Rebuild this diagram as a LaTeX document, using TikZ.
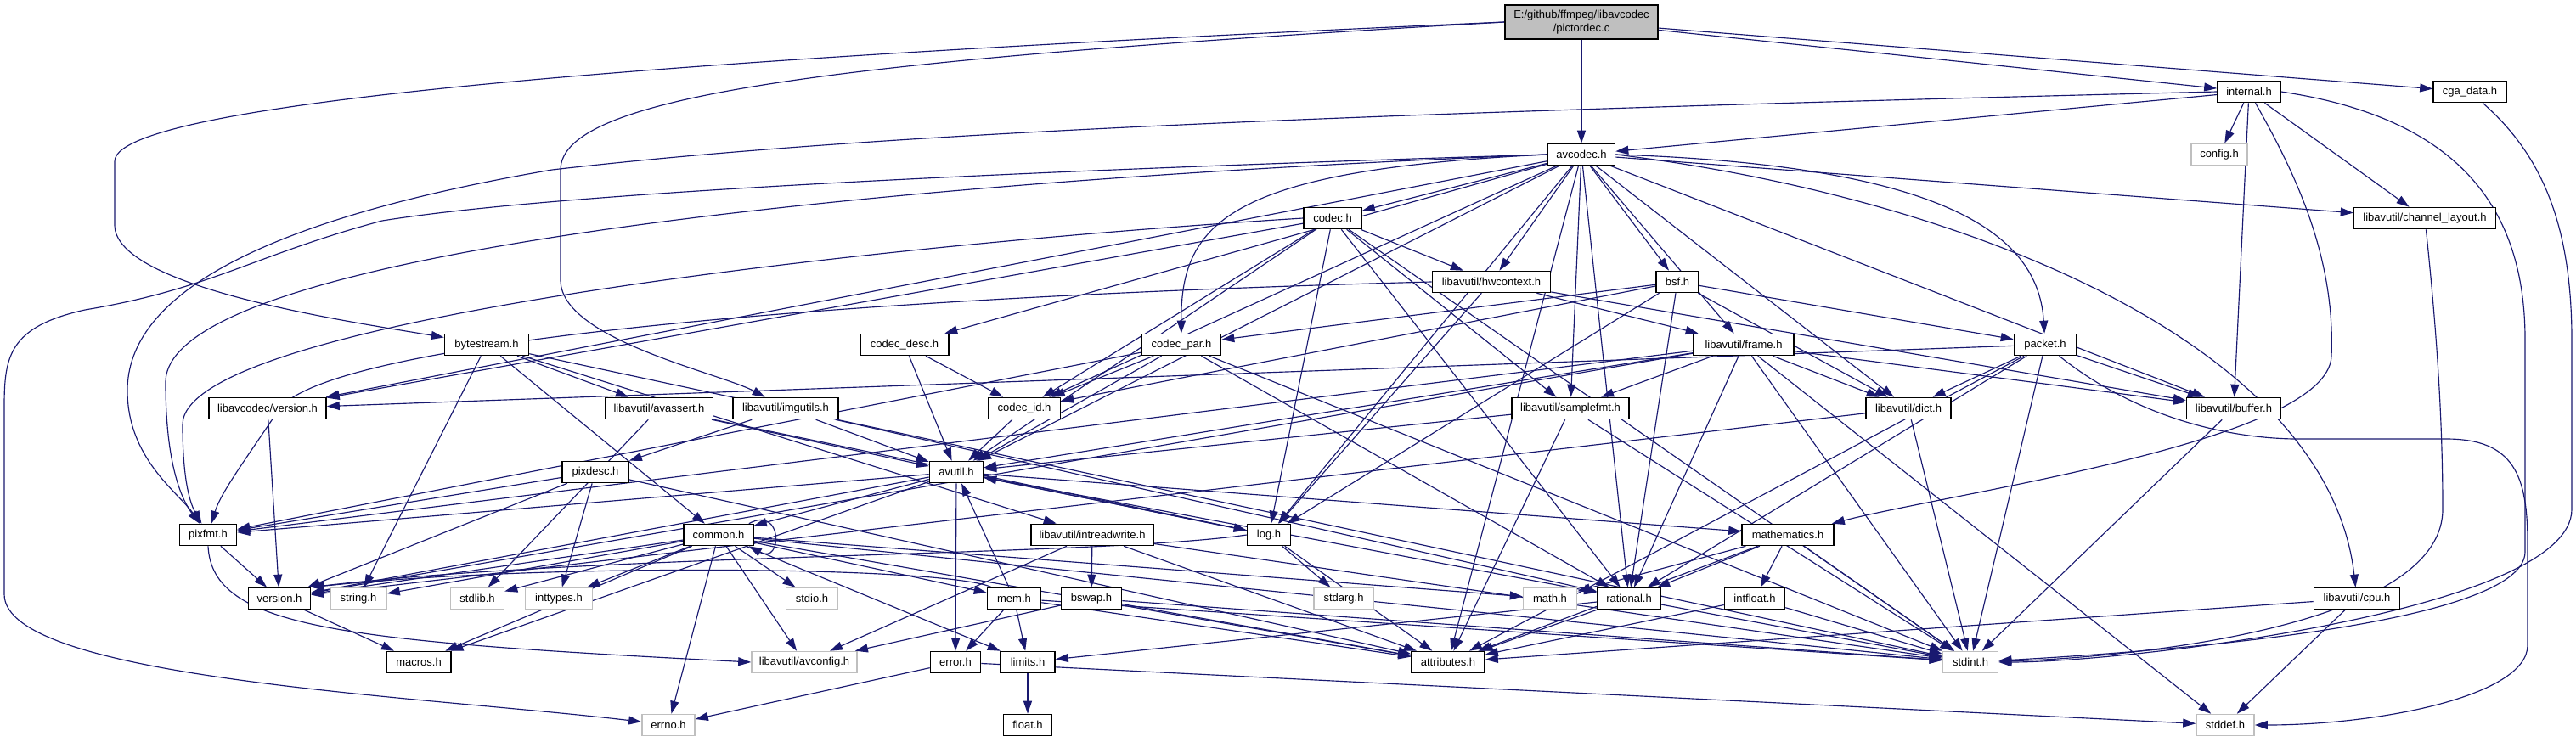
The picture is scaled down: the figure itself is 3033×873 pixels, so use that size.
\documentclass[tikz,border=0pt]{standalone}
\usepackage{fontspec}
\setmainfont{Liberation Sans}
\usetikzlibrary{arrows.meta}
\definecolor{edgec}{HTML}{191970}
\definecolor{greyb}{HTML}{BFBFBF}
\definecolor{rootfill}{HTML}{BFBFBF}
\pgfdeclarelayer{bgfill}
\pgfdeclarelayer{edges}
\pgfsetlayers{bgfill,edges,main}
\begin{document}
\begin{tikzpicture}[x=1pt,y=-1pt,
  nd/.style={draw=black, line width=1.6pt, fill=white, minimum height=25pt, inner sep=2pt, font=\fontsize{13}{16}\selectfont},
  sys/.style={nd, draw=greyb},
  e/.style={draw=edgec, line width=1.15pt, -{Triangle[length=15pt,width=10pt]}},
]
\begin{pgfonlayer}{bgfill}
\fill[white] (0,0) rectangle (3033,873);
\end{pgfonlayer}
\useasboundingbox (0,0) rectangle (3033,873);

% nodes
\node[nd, fill=rootfill, minimum width=180pt, minimum height=40pt, align=center] (root) at (1862,26) {E:/github/ffmpeg/libavcodec\\/pictordec.c};
\node[nd, minimum width=74pt] (internal) at (2648,108) {internal.h};
\node[nd, minimum width=86pt] (cga) at (2908,108) {cga\_data.h};
\node[nd, minimum width=79pt] (avcodec) at (1862,182) {avcodec.h};
\node[sys, minimum width=66pt] (config) at (2613,182) {config.h};
\node[nd, minimum width=68pt] (codec) at (1569,257) {codec.h};
\node[nd, minimum width=167pt] (chlayout) at (2855,257) {libavutil/channel\_layout.h};
\node[nd, minimum width=139pt] (hwctx) at (1756,332) {libavutil/hwcontext.h};
\node[nd, minimum width=50pt] (bsf) at (1975,332) {bsf.h};
\node[nd, minimum width=99pt] (bytestream) at (573,406) {bytestream.h};
\node[nd, minimum width=104pt] (codecdesc) at (1065,406) {codec\_desc.h};
\node[nd, minimum width=93pt] (codecpar) at (1391,406) {codec\_par.h};
\node[nd, minimum width=118pt] (frame) at (2053,406) {libavutil/frame.h};
\node[nd, minimum width=73pt] (packet) at (2408,406) {packet.h};
\node[nd, minimum width=138pt] (lvversion) at (315,481) {libavcodec/version.h};
\node[nd, minimum width=127pt] (avassert) at (776,481) {libavutil/avassert.h};
\node[nd, minimum width=124pt] (imgutils) at (925,481) {libavutil/imgutils.h};
\node[nd, minimum width=85pt] (codecid) at (1206,481) {codec\_id.h};
\node[nd, minimum width=138pt] (samplefmt) at (1849,481) {libavutil/samplefmt.h};
\node[nd, minimum width=100pt] (dict) at (2247,481) {libavutil/dict.h};
\node[nd, minimum width=111pt] (buffer) at (2630,481) {libavutil/buffer.h};
\node[nd, minimum width=78pt] (pixdesc) at (701,556) {pixdesc.h};
\node[nd, minimum width=63pt] (avutil) at (1126,556) {avutil.h};
\node[nd, minimum width=67pt] (pixfmt) at (245,630) {pixfmt.h};
\node[nd, minimum width=82pt] (common) at (846,630) {common.h};
\node[nd, minimum width=144pt] (intrw) at (1286,630) {libavutil/intreadwrite.h};
\node[nd, minimum width=51pt] (log) at (1494,630) {log.h};
\node[nd, minimum width=108pt] (math) at (2105,630) {mathematics.h};
\node[nd, minimum width=73pt] (version) at (329,705) {version.h};
\node[sys, minimum width=66pt] (string) at (422,705) {string.h};
\node[sys, minimum width=63pt] (stdlib) at (562,705) {stdlib.h};
\node[sys, minimum width=79pt] (inttypes) at (658,705) {inttypes.h};
\node[sys, minimum width=61pt] (stdio) at (956,705) {stdio.h};
\node[nd, minimum width=63pt] (mem) at (1194,705) {mem.h};
\node[nd, minimum width=71pt] (bswap) at (1285,705) {bswap.h};
\node[sys, minimum width=70pt] (stdarg) at (1582,705) {stdarg.h};
\node[sys, minimum width=63pt] (mathh) at (1825,705) {math.h};
\node[nd, minimum width=74pt] (rational) at (1918,705) {rational.h};
\node[nd, minimum width=71pt] (intfloat) at (2066,705) {intfloat.h};
\node[nd, minimum width=101pt] (cpu) at (2775,705) {libavutil/cpu.h};
\node[nd, minimum width=76pt] (macros) at (493,780) {macros.h};
\node[sys, minimum width=124pt] (avconfig) at (947,780) {libavutil/avconfig.h};
\node[nd, minimum width=59pt] (error) at (1125,780) {error.h};
\node[nd, minimum width=64pt] (limits) at (1210,780) {limits.h};
\node[nd, minimum width=86pt] (attributes) at (1705,780) {attributes.h};
\node[sys, minimum width=65pt] (stdint) at (2320,780) {stdint.h};
\node[sys, minimum width=62pt] (errno) at (787,854) {errno.h};
\node[nd, minimum width=57pt] (float) at (1210,854) {float.h};
\node[sys, minimum width=68pt] (stddef) at (2620,854) {stddef.h};

\begin{pgfonlayer}{edges}
% straight edges
\foreach \a/\b in {root/avcodec, root/internal, root/cga,
  internal/avcodec, internal/config, internal/chlayout, internal/buffer,
  avcodec/lvversion, avcodec/codecdesc, avcodec/avutil, avcodec/codecid, avcodec/log,
  avcodec/samplefmt, avcodec/attributes, avcodec/bsf, avcodec/frame, avcodec/dict,
  avcodec/hwctx, avcodec/rational, avcodec/buffer, avcodec/chlayout, avcodec/codec,
  codec/lvversion, codec/avutil, codec/codecid, codec/log, codec/rational, codec/samplefmt,
  codec/hwctx, codec/stdint,
  hwctx/log, hwctx/frame, hwctx/buffer,
  bsf/dict, bsf/log, bsf/rational, bsf/codecid, bsf/codecpar, bsf/packet,
  bytestream/string, bytestream/avassert, bytestream/common, bytestream/intrw, bytestream/stdint,
  codecdesc/avutil, codecdesc/codecid,
  codecpar/stdint, codecpar/avutil, codecpar/rational, codecpar/pixfmt, codecpar/codecid,
  codecid/avutil,
  frame/stddef, frame/stdint, frame/avutil, frame/buffer, frame/dict, frame/rational,
  frame/samplefmt, frame/pixfmt, frame/version,
  packet/stdint, packet/attributes, packet/buffer, packet/dict, packet/rational, packet/lvversion,
  lvversion/version,
  avassert/stdlib, avassert/avutil, avassert/log,
  imgutils/avutil, imgutils/pixdesc, imgutils/rational,
  samplefmt/stdint, samplefmt/avutil, samplefmt/attributes,
  dict/stdint, dict/version,
  buffer/stdint,
  pixdesc/inttypes, pixdesc/attributes, pixdesc/pixfmt, pixdesc/version,
  avutil/common, avutil/error, avutil/rational, avutil/version, avutil/macros, avutil/math,
  avutil/log, avutil/pixfmt,
  pixfmt/version,
  common/errno, common/inttypes, common/limits, common/mathh, common/stdint, common/stdio,
  common/stdlib, common/string, common/attributes, common/macros, common/version,
  common/avconfig, common/mem,
  version/macros,
  mem/limits, mem/stdint, mem/attributes, mem/error, mem/avutil,
  error/errno, error/stddef,
  limits/float,
  intrw/stdint, intrw/avconfig, intrw/attributes, intrw/bswap,
  bswap/stdint, bswap/avconfig, bswap/attributes,
  log/stdarg, log/avutil, log/attributes,
  math/stdint, math/mathh, math/attributes, math/rational, math/intfloat,
  rational/stdint, rational/limits, rational/attributes,
  intfloat/stdint, intfloat/attributes,
  cpu/stddef, cpu/attributes}
  \draw[e] (\a) -- (\b);

% curved edges
\draw[e] (root.west) .. controls (1000,60) and (135,110) .. (135,190) -- (135,265) .. controls (135,340) and (420,380) .. (bytestream);
\draw[e] (root.west) .. controls (1000,70) and (660,110) .. (660,200) -- (660,330) .. controls (660,400) and (850,440) .. (imgutils);
\draw[e] (internal.west) .. controls (1500,135) and (1000,160) .. (650,200) .. controls (300,260) and (150,350) .. (150,460) .. controls (150,540) and (210,580) .. (pixfmt);
\draw[e] (internal) .. controls (2700,200) and (2750,300) .. (2745,420) .. controls (2740,520) and (2300,580) .. (math);
\draw[e] (internal.east) .. controls (2900,140) and (2973,250) .. (2973,400) -- (2973,650) .. controls (2973,740) and (2500,770) .. (stdint);
\draw[e] (cga) .. controls (2990,180) and (3028,260) .. (3028,400) -- (3028,600) .. controls (3028,720) and (2500,780) .. (stdint);
\draw[e] (chlayout) .. controls (2870,400) and (2876,500) .. (2876,600) .. controls (2876,740) and (2500,775) .. (stdint);
\draw[e] (avcodec.west) .. controls (1400,195) and (700,220) .. (450,260) .. controls (300,300) and (250,340) .. (100,365) .. controls (10,385) and (5,420) .. (5,480) -- (5,700) .. controls (5,800) and (500,820) .. (errno);
\draw[e] (avcodec.west) .. controls (1000,215) and (195,300) .. (195,450) .. controls (195,550) and (215,590) .. (pixfmt);
\draw[e] (codec.west) .. controls (1000,290) and (215,380) .. (215,500) .. controls (215,570) and (225,595) .. (pixfmt);
\draw[e] (hwctx.west) .. controls (1000,350) and (400,400) .. (330,480) .. controls (290,540) and (260,580) .. (pixfmt);
\draw[e] (avcodec.east) .. controls (2300,230) and (2740,400) .. (cpu);
\draw[e] (avcodec.east) .. controls (2300,195) and (2400,280) .. (packet);
\draw[e] (avcodec.west) .. controls (1450,200) and (1390,260) .. (codecpar);
\draw[e] (packet) .. controls (2500,480) and (2600,515) .. (2700,517) -- (2880,517) .. controls (2960,517) and (2976,560) .. (2976,640) -- (2976,760) .. controls (2976,820) and (2800,854) .. (stddef);
\draw[e] (pixfmt.south) .. controls (250,740) and (400,755) .. (avconfig.west);
\draw[e] (log.west) .. controls (1300,655) and (700,652) .. (version.north east);
\draw[e] (mem) .. controls (1120,668) and (650,662) .. (version.north east);
\draw[e] ([xshift=-6pt]common.north east) .. controls +(40,-22) and +(40,22) .. ([xshift=-6pt]common.south east);
\end{pgfonlayer}
\end{tikzpicture}
\end{document}
